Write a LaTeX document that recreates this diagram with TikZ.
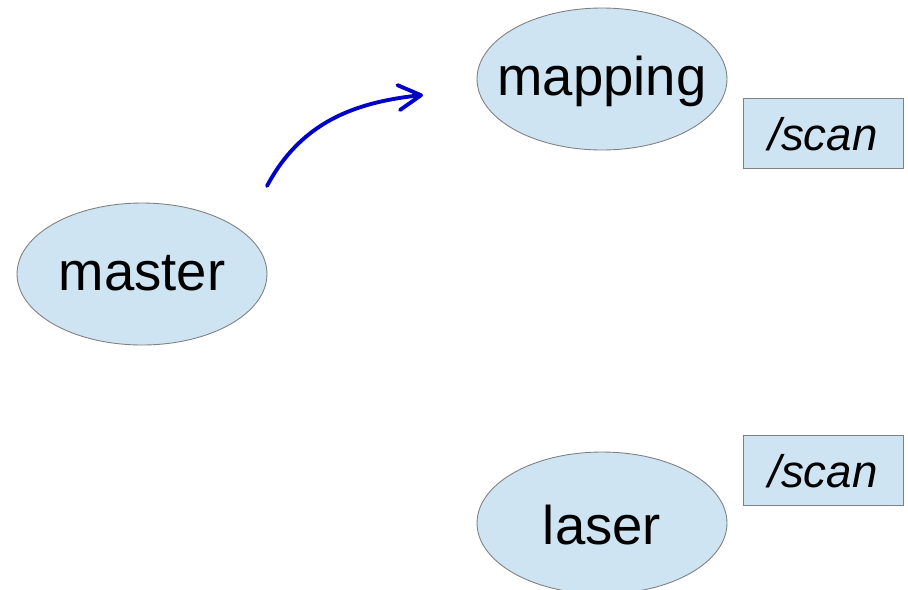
\documentclass[tikz,border=0pt]{standalone}
\usepackage{fontspec}
\setmainfont{Liberation Sans}
\usetikzlibrary{shapes.geometric,arrows.meta}

\begin{document}
\begin{tikzpicture}[x=0.02cm,y=-0.02cm]

% Couleurs
\definecolor{nodefill}{RGB}{207,228,242} % Bleu clair (noeuds)
\definecolor{nodeline}{RGB}{128,128,128} % Gris (contours)
\definecolor{arrowblue}{RGB}{0,0,200}    % Bleu (fleche)

% Styles
\tikzset{
  rosnode/.style={ellipse, draw=nodeline, fill=nodefill, line width=0.5pt,
    minimum width=5cm, minimum height=2.84cm, inner sep=-1.5cm},
  rostext/.style={inner sep=0pt, text height=25pt, text depth=6pt,
    font=\fontsize{31}{31}\selectfont},
  topicbox/.style={rectangle, draw=nodeline, fill=nodefill, line width=0.5pt,
    minimum width=3.2cm, minimum height=1.4cm, inner sep=0pt,
    text height=25pt, text depth=5pt, font=\fontsize{26}{26}\selectfont\itshape},
  pubarrow/.style={arrowblue, line width=2.2pt, line cap=round,
    -{Straight Barb[round,length=4.5mm,width=5mm]}}
}

\useasboundingbox (0,0) rectangle (908,589);
\clip (0,0) rectangle (908,589);

% Noeuds
\node[rosnode, label={[rostext]center:master}] (master) at (142,274) {};
\node[rosnode, label={[rostext]center:mapping}] (mapping) at (602,79) {};
\node[rosnode, label={[rostext,yshift=-3pt]center:laser}] (laser) at (602,523) {};

% Topics
\node[topicbox] (scanA) at (823,133) {/scan};
\node[topicbox] (scanB) at (823,470) {/scan};

% Fleche
\coordinate (arrowstart) at (267,186);
\coordinate (arrowend) at (423,95);
\draw[pubarrow] (arrowstart) to[out=62,in=186] (arrowend);

\end{tikzpicture}
\end{document}
